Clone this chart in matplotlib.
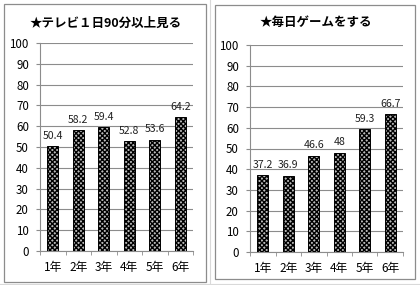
import matplotlib.pyplot as plt
from matplotlib.patches import Rectangle
from matplotlib.lines import Line2D
import numpy as np

plt.rcParams['font.family'] = ['Noto Sans CJK JP', 'DejaVu Sans']
plt.rcParams['hatch.linewidth'] = 1.0

grades = ["1年", "2年", "3年", "4年", "5年", "6年"]
tv_values = [50.4, 58.2, 59.4, 52.8, 53.6, 64.2]
game_values = [37.2, 36.9, 46.6, 48, 59.3, 66.7]
tv_title = "★テレビ１日90分以上見る"
game_title = "★毎日ゲームをする"

W, H = 420, 285
fig = plt.figure(figsize=(W / 100, H / 100), dpi=100)

def px_box(x0, y0, x1, y1):
    # pixel box (top-left origin) -> figure fraction rect
    return [x0 / W, 1 - y1 / H, (x1 - x0) / W, (y1 - y0) / H]

# faint spreadsheet cell lines behind the charts
fig.add_artist(Line2D([210 / W, 210 / W], [0, 1], color="#d9d9d9", lw=0.8, zorder=-2))
fig.add_artist(Line2D([0, 1], [1 - 284 / H, 1 - 284 / H], color="#d9d9d9", lw=0.8, zorder=-2))

# chart frames
for (x0, y0, x1, y1) in [(4, 4, 206, 282), (215, 5, 415, 279)]:
    fig.add_artist(Rectangle((x0 / W, 1 - y1 / H), (x1 - x0) / W, (y1 - y0) / H,
                             facecolor="white", edgecolor="#8c8c8c", lw=0.9,
                             transform=fig.transFigure, zorder=-1))

def draw(rect, values, title, title_xy):
    ax = fig.add_axes(rect)
    ax.patch.set_alpha(0)
    x = np.arange(len(values))
    ax.bar(x, values, width=0.42, color="#bbbbbb", edgecolor="black",
           hatch="xxxxxxx", linewidth=0.7, zorder=3)
    for xi, v in zip(x, values):
        ax.text(xi, v + 2.5, f"{v:g}", ha="center", va="bottom", fontsize=7.6,
                color="#222222")
    ax.set_ylim(0, 100)
    ax.set_xlim(-0.5, len(values) - 0.5)
    ax.set_yticks(range(0, 101, 10))
    ax.yaxis.grid(True, color="#8c8c8c", lw=0.8)
    ax.set_axisbelow(True)
    ax.set_xticks(x)
    ax.set_xticklabels(grades, fontsize=8.5)
    ax.set_xticks(np.arange(-0.5, len(values), 1), minor=True)
    ax.tick_params(axis="x", which="major", length=0, pad=7)
    ax.tick_params(axis="x", which="minor", length=3, color="#8c8c8c")
    ax.tick_params(axis="y", length=3, color="#8c8c8c", labelsize=8.3, pad=5)
    for s in ["top", "right"]:
        ax.spines[s].set_visible(False)
    for s in ["left", "bottom"]:
        ax.spines[s].set_color("#8c8c8c")
        ax.spines[s].set_linewidth(0.8)
    fig.text(title_xy[0] / W, 1 - title_xy[1] / H, title, ha="center", va="center",
             fontsize=9, fontweight="bold")

draw(px_box(40, 43, 193, 251), tv_values, tv_title, (106, 23))
draw(px_box(250, 45, 403, 252), game_values, game_title, (316, 22))

fig.savefig("out.png", dpi=100)
